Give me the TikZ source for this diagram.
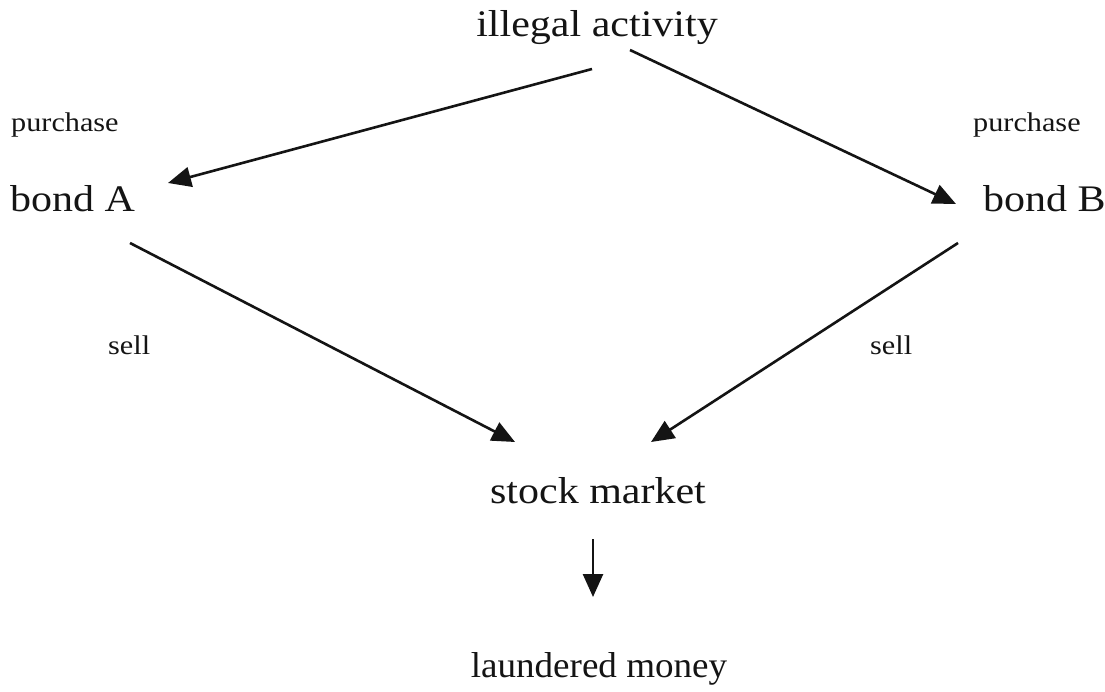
\documentclass[tikz,border=0pt]{standalone}
\usepackage{fontspec}
\setmainfont{Liberation Serif}[FakeStretch=1.12]
\newfontfamily\plainserif{Liberation Serif}[FakeStretch=1.03]
\usetikzlibrary{arrows.meta}
\begin{document}
\begin{tikzpicture}[x=1pt,y=-1pt,
  big/.style={inner sep=0pt,anchor=base,font=\fontsize{37.5}{40}\selectfont,text=black!92},
  small/.style={inner sep=0pt,anchor=base west,font=\fontsize{27}{30}\selectfont,text=black!92},
  arr/.style={line width=2.6pt,draw=black!92,-{Triangle[length=23pt,width=20pt]}}]
\useasboundingbox[fill=white] (0,0) rectangle (1105,692);
\node[big] (ia) at (597,37) {illegal activity};
\node[small] (pA) at (11,132) {purchase};
\node[small] (pB) at (973,132) {purchase};
\node[big,anchor=base west] (bA) at (10,212) {bond A};
\node[big,anchor=base west] (bB) at (983,212) {bond B};
\node[small] (sA) at (108,355) {sell};
\node[small] (sB) at (870,355) {sell};
\node[big] (sm) at (598,503) {stock market};
\node[big,font=\plainserif\fontsize{36}{40}\selectfont] (lm) at (599,677) {laundered money};
\draw[arr] ([shift={(-5,32)}]ia.base) -- ([shift={(158,-29)}]bA.base west);
\draw[arr] ([shift={(33,13)}]ia.base) -- ([shift={(-27,-8)}]bB.base west);
\draw[arr] ([shift={(120,31)}]bA.base west) -- ([shift={(-83,-61)}]sm.base);
\draw[arr] ([shift={(-25,31)}]bB.base west) -- ([shift={(53,-61)}]sm.base);
\draw[arr] ([shift={(-5,36)}]sm.base) -- ([shift={(-6,-80)}]lm.base);
\end{tikzpicture}
\end{document}
